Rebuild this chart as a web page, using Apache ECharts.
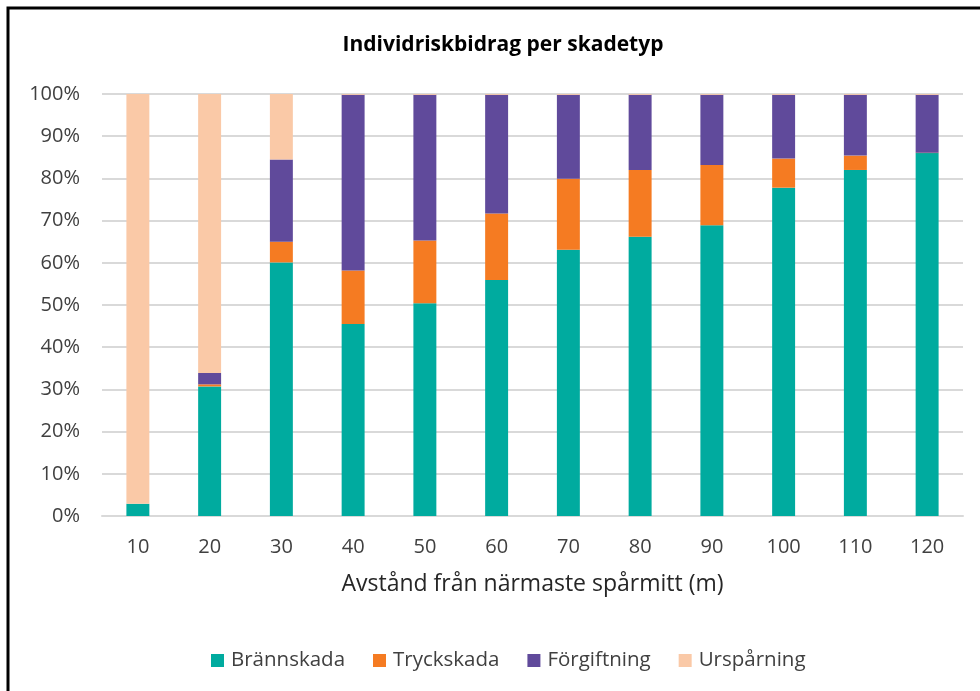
<!DOCTYPE html>
<html>
<head>
<meta charset="utf-8">
<script src="https://cdn.jsdelivr.net/npm/echarts@6/dist/echarts.min.js"></script>
<style>
  html, body { margin: 0; padding: 0; background: #fff; }
  #chart { width: 980px; height: 691px; }
</style>
</head>
<body>
<div id="chart"></div>
<script>
// avstånd (m)
const categories = ['10', '20', '30', '40', '50', '60', '70', '80', '90', '100', '110', '120']
// andel i procent per skadetyp
const brannskada = [2.9, 30.7, 60.1, 45.5, 50.4, 55.9, 63.1, 66.2, 68.9, 77.8, 82.0, 86.0]
const tryckskada = [0, 0.5, 4.9, 12.7, 14.9, 15.8, 16.8, 15.8, 14.3, 6.9, 3.4, 0.1]
const forgiftning = [0, 2.7, 19.5, 41.6, 34.5, 28.1, 19.9, 17.8, 16.6, 15.1, 14.4, 13.7]
const urspaarning = [97.1, 66.1, 15.5, 0.2, 0.2, 0.2, 0.2, 0.2, 0.2, 0.2, 0.2, 0.2]
const yTicks = [0, 10, 20, 30, 40, 50, 60, 70, 80, 90, 100]

const font = 'Open Sans'
const colors = ['#00ab9f', '#f57b22', '#604a9b', '#fac9a7']

const chart = echarts.init(document.getElementById('chart'))

const serie = (name, data, color) => ({
  name,
  type: 'bar',
  stack: 'total',
  barWidth: '32%',
  itemStyle: { color },
  emphasis: { disabled: true },
  data
})

chart.setOption({
  animation: false,
  textStyle: { fontFamily: font },
  title: {
    text: 'Individriskbidrag per skadetyp',
    left: 498,
    textAlign: 'center',
    top: 30,
    textStyle: { fontFamily: font, fontSize: 21, fontWeight: 'bold', color: '#000' }
  },
  graphic: [{
    type: 'rect',
    shape: { x: 8, y: 8, width: 1100, height: 1000 },
    style: { fill: 'none', stroke: '#000', lineWidth: 3 },
    silent: true
  }],
  grid: { left: 102, right: 17, top: 94, bottom: 175, containLabel: false },
  legend: {
    left: 206,
    top: 645,
    itemWidth: 13,
    itemHeight: 13,
    itemGap: 28,
    icon: 'rect',
    data: ['Brännskada', 'Tryckskada', 'Förgiftning', 'Urspårning'],
    textStyle: { fontFamily: font, fontSize: 20.5, color: '#404040', padding: [0, 0, 0, 2] }
  },
  xAxis: {
    type: 'category',
    data: categories,
    name: 'Avstånd från närmaste spårmitt (m)',
    nameLocation: 'middle',
    nameGap: 57,
    nameTextStyle: { fontFamily: font, fontSize: 23, color: '#262626' },
    axisTick: { show: false },
    axisLine: { lineStyle: { color: '#d9d9d9', width: 2 } },
    axisLabel: { margin: 21, fontFamily: font, fontSize: 20, color: '#404040' }
  },
  yAxis: {
    type: 'value',
    min: yTicks[0],
    max: yTicks[yTicks.length - 1],
    interval: 10,
    axisLine: { show: false },
    axisTick: { show: false },
    splitLine: { lineStyle: { color: '#d9d9d9', width: 2 } },
    axisLabel: { margin: 22, fontFamily: font, fontSize: 20, color: '#404040', formatter: '{value}%' }
  },
  series: [
    serie('Brännskada', brannskada, colors[0]),
    serie('Tryckskada', tryckskada, colors[1]),
    serie('Förgiftning', forgiftning, colors[2]),
    serie('Urspårning', urspaarning, colors[3])
  ]
})
</script>
</body>
</html>
